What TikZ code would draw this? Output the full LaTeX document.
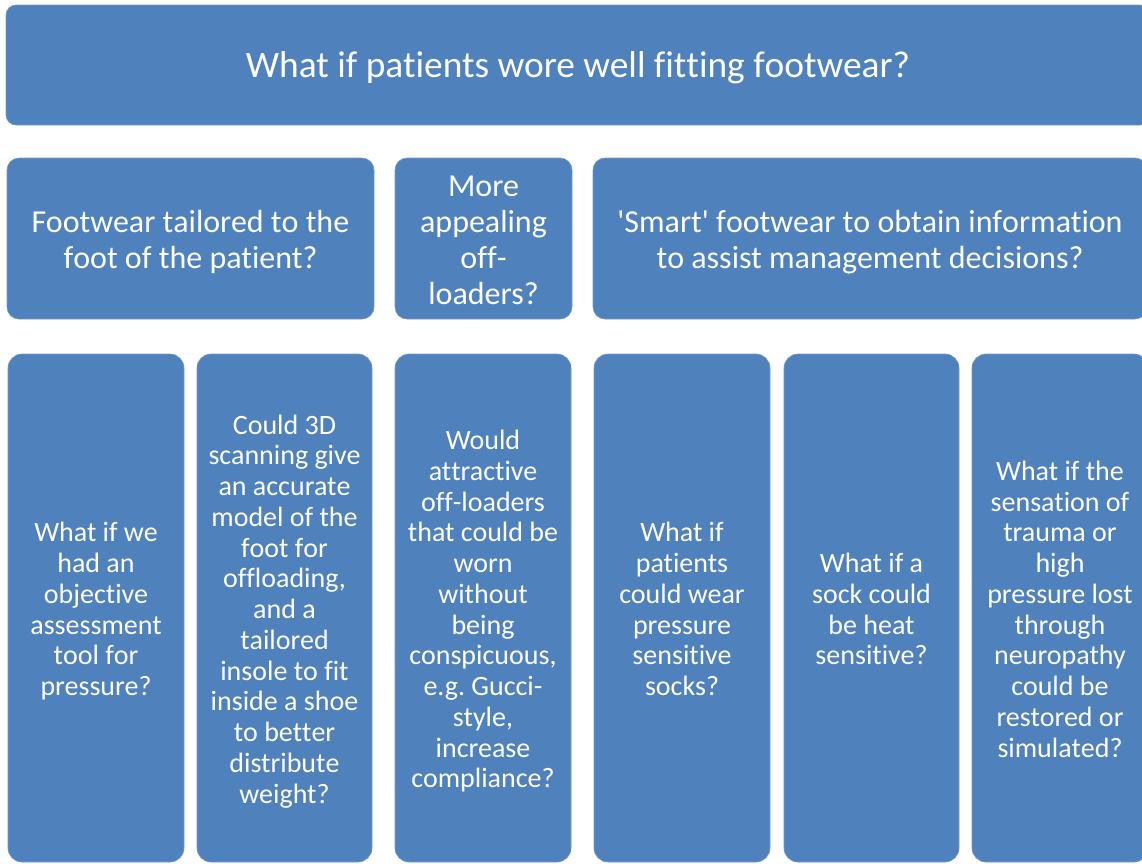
\documentclass[tikz,border=0pt]{standalone}
\usepackage{fontspec}
\setmainfont{Carlito}[Ligatures={NoCommon,NoRequired,NoContextual},Contextuals={NoAlternate}]
\definecolor{boxblue}{HTML}{4F81BD}
% keep t and f apart from the next letter (no ti, tt, fi ligatures)
\XeTeXinterchartokenstate=1
\newXeTeXintercharclass\tfclass
\XeTeXcharclass`t=\tfclass
\XeTeXcharclass`f=\tfclass
\XeTeXinterchartoks\tfclass 0 = {\kern0pt}
\XeTeXinterchartoks\tfclass\tfclass = {\kern0pt}
\newcommand{\boxlines}[1]{\raisebox{-4.5pt}[\height][\depth]{\begin{tabular}{@{}c@{}}#1\end{tabular}}}
\begin{document}
\begin{tikzpicture}[x=1pt,y=-1pt,
  box/.style={fill=boxblue, draw=boxblue!80!white, line width=0.6pt, rounded corners=12pt,
    text=white, inner sep=0pt, anchor=center},
  bigtext/.style={font=\fontsize{37.4}{41}\selectfont},
  midtext/.style={font=\fontsize{32}{36}\selectfont},
  smalltext/.style={font=\fontsize{28}{30.75}\selectfont}]
  \useasboundingbox (0,0) rectangle (1142,863);
  \clip (0,0) rectangle (1142,863);

  % top row
  \node[box, bigtext, minimum width=1144pt, minimum height=120pt, rounded corners=10pt]
    (title) at (578,65) {\boxlines{What if patients wore well fitting footwear?}};

  % middle row
  \node[box, midtext, minimum width=367pt, minimum height=161pt]
    (tailored) at (190.5,238.5) {\boxlines{Footwear tailored to the\\foot of the patient?}};
  \node[box, midtext, minimum width=177pt, minimum height=161pt]
    (appeal) at (483.5,238.5) {\boxlines{More\\appealing\\off-\\loaders?}};
  \node[box, midtext, minimum width=554pt, minimum height=161pt]
    (smart) at (870,238.5) {\boxlines{\textquotesingle Smart\textquotesingle{} footwear to obtain information\\to assist management decisions?}};

  % bottom row
  \node[box, smalltext, minimum width=176pt, minimum height=508pt, rounded corners=14pt]
    (objective) at (96,608) {\boxlines{What if we\\had an\\objective\\assessment\\tool for\\pressure?}};
  \node[box, smalltext, minimum width=175pt, minimum height=508pt, rounded corners=14pt]
    (scan) at (284.5,608) {\boxlines{Could 3D\\scanning give\\an accurate\\model of the\\foot for\\offloading,\\and a\\tailored\\insole to fit\\inside a shoe\\to better\\distribute\\weight?}};
  \node[box, smalltext, minimum width=176pt, minimum height=508pt, rounded corners=14pt]
    (attract) at (483,608) {\boxlines{Would\\attractive\\off-loaders\\that could be\\worn\\without\\being\\conspicuous,\\e.g.\ Gucci-\\style,\\increase\\compliance?}};
  \node[box, smalltext, minimum width=176pt, minimum height=508pt, rounded corners=14pt]
    (socks) at (682,608) {\boxlines{What if\\patients\\could wear\\pressure\\sensitive\\socks?}};
  \node[box, smalltext, minimum width=175pt, minimum height=508pt, rounded corners=14pt]
    (heat) at (871.5,608) {\boxlines{What if a\\sock could\\be heat\\sensitive?}};
  \node[box, smalltext, minimum width=176pt, minimum height=508pt, rounded corners=14pt]
    (sensation) at (1060,608) {\boxlines{What if the\\sensation of\\trauma or\\high\\pressure lost\\through\\neuropathy\\could be\\restored or\\simulated?}};

\end{tikzpicture}
\end{document}
